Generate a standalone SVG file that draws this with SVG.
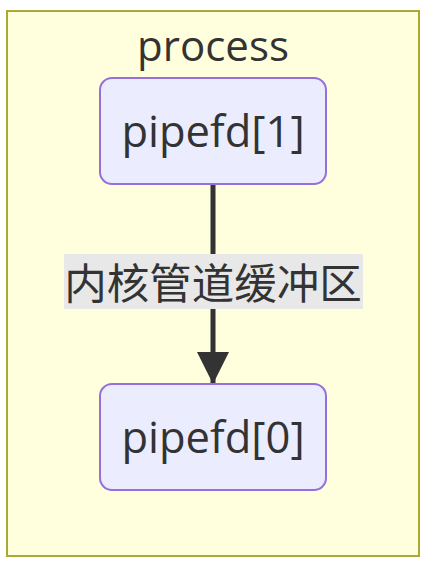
<svg xmlns="http://www.w3.org/2000/svg" width="426" height="566" viewBox="0 0 426 566">
<style>
.t{font-family:"Open Sans","Noto Sans CJK SC",sans-serif;fill:#333;text-anchor:middle}
.node rect{fill:#ececff;stroke:#9370db;stroke-width:2}
</style>
<defs>
<marker id="ah" markerUnits="userSpaceOnUse" markerWidth="32" markerHeight="32" refX="32" refY="16" orient="auto" viewBox="0 0 32 32">
<path d="M0,0 L32,16 L0,32 Z" fill="#333"/>
</marker>
</defs>
<rect width="426" height="566" fill="#fff"/>
<g id="process">
<rect x="7" y="11" width="412" height="545" fill="#ffffde" stroke="#aaaa33" stroke-width="2"/>
<text class="t" x="213" y="61" font-size="42">process</text>
</g>
<g id="connectors">
<path d="M213,184 L213,384" stroke="#333" stroke-width="5" fill="none" marker-end="url(#ah)"/>
<rect x="64" y="254" width="299" height="55" fill="#e8e8e8"/>
<text class="t" x="213" y="282" font-size="42.5" dominant-baseline="central">内核管道缓冲区</text>
</g>
<g id="pipefd1" class="node">
<rect x="100" y="78" width="226" height="106" rx="12"/>
<text class="t" x="213" y="147" font-size="43.5">pipefd[1]</text>
</g>
<g id="pipefd0" class="node">
<rect x="100" y="384" width="226" height="106" rx="12"/>
<text class="t" x="213" y="453" font-size="43.5">pipefd[0]</text>
</g>
</svg>
